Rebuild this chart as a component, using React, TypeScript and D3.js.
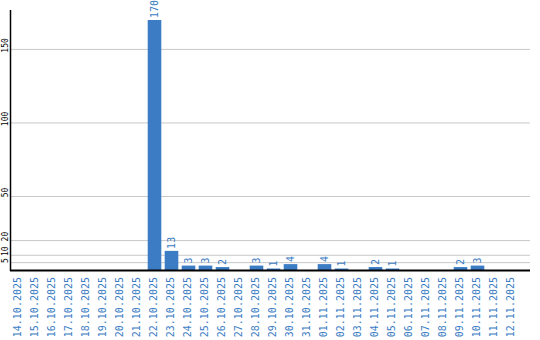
import React from "react";
import * as d3 from "d3";

const categories = [
  "14.10.2025", "15.10.2025", "16.10.2025", "17.10.2025", "18.10.2025",
  "19.10.2025", "20.10.2025", "21.10.2025", "22.10.2025", "23.10.2025",
  "24.10.2025", "25.10.2025", "26.10.2025", "27.10.2025", "28.10.2025",
  "29.10.2025", "30.10.2025", "31.10.2025", "01.11.2025", "02.11.2025",
  "03.11.2025", "04.11.2025", "05.11.2025", "06.11.2025", "07.11.2025",
  "08.11.2025", "09.11.2025", "10.11.2025", "11.11.2025", "12.11.2025",
];
const values = [
  0, 0, 0, 0, 0, 0, 0, 0, 170, 13,
  3, 3, 2, 0, 3, 1, 4, 0, 4, 1,
  0, 2, 1, 0, 0, 0, 2, 3, 0, 0,
];
const yTicks = [5, 10, 20, 50, 100, 150];

const W = 540;
const H = 340;
const BLUE = "#3b7cc4";
const MONO = "'DejaVu Sans Mono', 'Liberation Mono', monospace";

export default function App() {
  const x = d3.scaleBand<string>().domain(categories).range([10, 520]).paddingInner(0.2).paddingOuter(0.1);
  const y = d3.scaleLinear().domain([0, 170]).range([270, 20]);

  // y labels with simple collision avoidance
  const yLabels = yTicks
    .slice()
    .sort((a, b) => b - a)
    .map((v) => ({ v, c: y(v) - 4, half: (String(v).length * 4.8) / 2 }));
  for (let i = 1; i < yLabels.length; i++) {
    const prev = yLabels[i - 1];
    const cur = yLabels[i];
    const minC = prev.c + prev.half + 2 + cur.half;
    if (cur.c < minC) cur.c = minC;
  }

  return (
    <svg
      width={W}
      height={H}
      style={{ position: "absolute", left: 0, top: 0, background: "#fff" }}
    >
      <rect x={0} y={0} width={W} height={H} fill="#fff" />
      {yTicks.map((t) => (
        <line key={"g" + t} x1={11} x2={530} y1={y(t)} y2={y(t)} stroke="#c8c8c8" strokeWidth={1} />
      ))}
      {categories.map((c, i) => {
        const v = values[i];
        if (v <= 0) return null;
        const bx = x(c)!;
        return (
          <g key={"b" + c}>
            <rect x={bx} y={y(v)} width={x.bandwidth()} height={y(0) - y(v)} fill={BLUE} />
            <text
              transform={`translate(${bx + x.bandwidth() / 2},${y(v) - 2}) rotate(-90)`}
              fontFamily={MONO}
              fontSize={10}
              fill={BLUE}
              dominantBaseline="central"
              textAnchor="start"
            >
              {v}
            </text>
          </g>
        );
      })}
      <line x1={10.5} x2={10.5} y1={10} y2={271} stroke="#000" strokeWidth={1.5} />
      <line x1={10} x2={530} y1={270.5} y2={270.5} stroke="#000" strokeWidth={2} />
      {yLabels.map((l) => (
        <text
          key={"yl" + l.v}
          transform={`translate(7.5,${l.c}) rotate(-90)`}
          fontFamily={MONO}
          fontSize={8}
          fill="#000"
          textAnchor="middle"
        >
          {l.v}
        </text>
      ))}
      {categories.map((c) => (
        <text
          key={"xl" + c}
          transform={`translate(${x(c)! + x.bandwidth() / 2 - 1.5},277) rotate(-90)`}
          fontFamily={MONO}
          fontSize={10}
          fill={BLUE}
          dominantBaseline="central"
          textAnchor="end"
        >
          {c}
        </text>
      ))}
    </svg>
  );
}
